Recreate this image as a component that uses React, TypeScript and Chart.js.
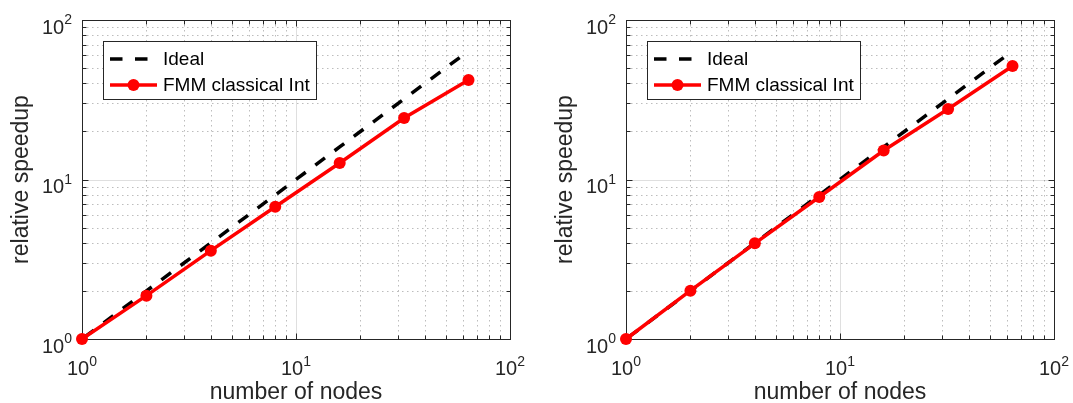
import React, { useEffect, useRef } from "react";
import { Chart, registerables } from "chart.js";

Chart.register(...registerables);

// ---- data ----
const nodes = [1, 2, 4, 8, 16, 32, 64];
const idealSpeedup = [1, 2, 4, 8, 16, 32, 64];
const speedupLeft = [1, 1.87, 3.58, 6.75, 12.7, 24.3, 42.1];
const speedupRight = [1, 2.01, 3.98, 7.77, 15.2, 27.7, 51.5];
const decadeTicks = [1, 10, 100];
const decadeExponents = ["0", "1", "2"];
const seriesLabels = ["Ideal", "FMM classical Int"];
const xAxisTitle = "number of nodes";
const yAxisTitle = "relative speedup";

const FONT = '"Liberation Sans", Arial, Helvetica, sans-serif';
const TEXT = "#262626";
const RED = "#ff0000";
const DASH = [12, 12];
const LW = 3.5;

function makePlugin() {
  return {
    id: "matlabAxes",
    beforeDatasetsDraw(chart: any) {
      const { ctx, chartArea: a, scales } = chart;
      const xs = scales.x;
      const ys = scales.y;
      const minors: number[] = [];
      for (let d = 0; d < decadeTicks.length - 1; d++) {
        for (let m = 2; m <= 9; m++) minors.push(decadeTicks[d] * m);
      }
      const seg = (x1: number, y1: number, x2: number, y2: number) => {
        ctx.beginPath();
        ctx.moveTo(x1, y1);
        ctx.lineTo(x2, y2);
        ctx.stroke();
      };
      ctx.save();
      // minor grid (dotted)
      ctx.strokeStyle = "rgba(38,38,38,0.3)";
      ctx.lineWidth = 1;
      ctx.setLineDash([1.5, 3.5]);
      for (const v of minors) {
        const px = Math.round(xs.getPixelForValue(v)) + 0.5;
        seg(px, a.top, px, a.bottom);
        const py = Math.round(ys.getPixelForValue(v)) + 0.5;
        seg(a.left, py, a.right, py);
      }
      // major grid
      ctx.setLineDash([]);
      ctx.strokeStyle = "rgba(38,38,38,0.15)";
      for (const v of decadeTicks.slice(1, -1)) {
        const px = Math.round(xs.getPixelForValue(v)) + 0.5;
        seg(px, a.top, px, a.bottom);
        const py = Math.round(ys.getPixelForValue(v)) + 0.5;
        seg(a.left, py, a.right, py);
      }
      // box
      ctx.strokeStyle = TEXT;
      ctx.lineWidth = 1;
      const L = a.left + 0.5, R = a.right + 0.5, T = a.top + 0.5, B = a.bottom + 0.5;
      ctx.strokeRect(L, T, R - L, B - T);
      // inward ticks on all sides
      const tick = (v: number, len: number) => {
        const px = Math.round(xs.getPixelForValue(v)) + 0.5;
        seg(px, B, px, B - len);
        seg(px, T, px, T + len);
        const py = Math.round(ys.getPixelForValue(v)) + 0.5;
        seg(L, py, L + len, py);
        seg(R, py, R - len, py);
      };
      for (const v of minors) tick(v, 4);
      for (const v of decadeTicks) tick(v, 6);
      ctx.restore();
    },
    afterDraw(chart: any) {
      const { ctx, chartArea: a, scales } = chart;
      const xs = scales.x;
      const ys = scales.y;
      ctx.save();
      ctx.fillStyle = TEXT;
      const baseFont = `20px ${FONT}`;
      const expFont = `14px ${FONT}`;
      decadeTicks.forEach((v, i) => {
        const exp = decadeExponents[i];
        ctx.font = baseFont;
        const wb = ctx.measureText("10").width;
        ctx.font = expFont;
        const we = ctx.measureText(exp).width;
        // x-axis labels
        const px = xs.getPixelForValue(v);
        const x0 = px - (wb + we) / 2;
        const by = a.bottom + 36;
        ctx.textAlign = "left";
        ctx.textBaseline = "alphabetic";
        ctx.font = baseFont;
        ctx.fillText("10", x0, by);
        ctx.font = expFont;
        ctx.fillText(exp, x0 + wb, by - 9);
        // y-axis labels
        const py = ys.getPixelForValue(v);
        const xr = a.left - 10;
        ctx.font = expFont;
        ctx.fillText(exp, xr - we, py + 4);
        ctx.font = baseFont;
        ctx.fillText("10", xr - we - wb, py + 13.5);
      });
      // axis titles
      ctx.font = `23px ${FONT}`;
      ctx.textAlign = "center";
      ctx.textBaseline = "alphabetic";
      ctx.fillText(xAxisTitle, (a.left + a.right) / 2, a.bottom + 60);
      ctx.save();
      ctx.translate(a.left - 54, (a.top + a.bottom) / 2);
      ctx.rotate(-Math.PI / 2);
      ctx.fillText(yAxisTitle, 0, 0);
      ctx.restore();
      // legend
      const bx = a.left + 21;
      const by0 = a.top + 21;
      const bw = 213;
      const bh = 58;
      ctx.fillStyle = "#ffffff";
      ctx.fillRect(bx, by0, bw, bh);
      ctx.strokeStyle = TEXT;
      ctx.lineWidth = 1;
      ctx.strokeRect(bx + 0.5, by0 + 0.5, bw, bh);
      const rows = [by0 + 18, by0 + 44];
      const sx1 = bx + 7;
      const sx2 = bx + 54;
      // Ideal
      ctx.strokeStyle = "#000000";
      ctx.lineWidth = LW;
      ctx.setLineDash([12.5, 12.5]);
      ctx.beginPath();
      ctx.moveTo(sx1, rows[0]);
      ctx.lineTo(sx2, rows[0]);
      ctx.stroke();
      ctx.setLineDash([]);
      // FMM
      ctx.strokeStyle = RED;
      ctx.beginPath();
      ctx.moveTo(sx1, rows[1]);
      ctx.lineTo(sx2, rows[1]);
      ctx.stroke();
      ctx.fillStyle = RED;
      ctx.beginPath();
      ctx.arc((sx1 + sx2) / 2, rows[1], 6, 0, Math.PI * 2);
      ctx.fill();
      ctx.fillStyle = "#000000";
      ctx.font = `19px ${FONT}`;
      ctx.textAlign = "left";
      ctx.textBaseline = "middle";
      ctx.fillText(seriesLabels[0], bx + 60, rows[0] + 1);
      ctx.fillText(seriesLabels[1], bx + 60, rows[1] + 1);
      ctx.restore();
    },
  };
}

function Panel(props: { speedup: number[]; left: number; width: number; padLeft: number; padRight: number }) {
  const ref = useRef<HTMLCanvasElement | null>(null);
  useEffect(() => {
    const canvas = ref.current;
    if (!canvas) return;
    const chart = new Chart(canvas, {
      type: "line",
      data: {
        datasets: [
          {
            label: seriesLabels[0],
            data: nodes.map((n, i) => ({ x: n, y: idealSpeedup[i] })),
            borderColor: "#000000",
            backgroundColor: "#000000",
            borderWidth: LW,
            borderDash: DASH,
            borderDashOffset: 21,
            borderCapStyle: "butt",
            pointRadius: 0,
            pointHoverRadius: 0,
            clip: false,
            order: 1,
          },
          {
            label: seriesLabels[1],
            data: nodes.map((n, i) => ({ x: n, y: props.speedup[i] })),
            borderColor: RED,
            backgroundColor: RED,
            borderWidth: LW,
            pointRadius: 6,
            pointBorderWidth: 0,
            pointHoverRadius: 6,
            pointBackgroundColor: RED,
            clip: false,
            order: 0,
          },
        ],
      },
      options: {
        responsive: false,
        maintainAspectRatio: false,
        animation: false,
        events: [],
        layout: { padding: { left: props.padLeft, right: props.padRight, top: 20, bottom: 64 } },
        plugins: { legend: { display: false }, tooltip: { enabled: false }, title: { display: false } },
        scales: {
          x: { type: "logarithmic", min: 1, max: 100, display: false },
          y: { type: "logarithmic", min: 1, max: 100, display: false },
        },
      } as any,
      plugins: [makePlugin()],
    } as any);
    return () => chart.destroy();
  }, []);
  return (
    <canvas
      ref={ref}
      width={props.width}
      height={403}
      style={{ position: "absolute", left: props.left, top: 0, width: props.width, height: 403 }}
    />
  );
}

export default function App() {
  return (
    <div style={{ position: "absolute", left: 0, top: 0, width: 1073, height: 403, background: "#ffffff" }}>
      <Panel speedup={speedupLeft} left={0} width={540} padLeft={82} padRight={30} />
      <Panel speedup={speedupRight} left={540} width={533} padLeft={86} padRight={19} />
    </div>
  );
}
